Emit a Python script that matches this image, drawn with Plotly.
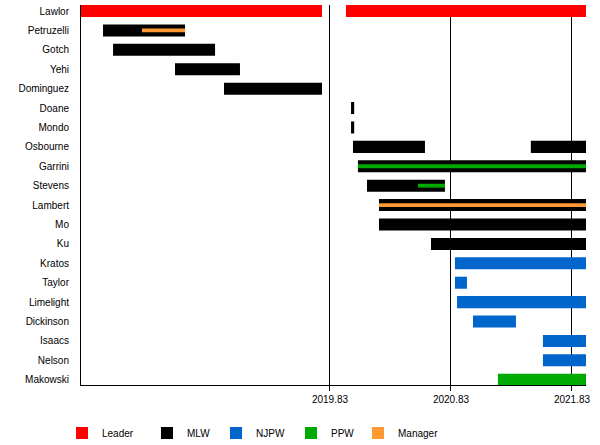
import plotly.graph_objects as go

# wrestlers, top to bottom
names = ["Lawlor", "Petruzelli", "Gotch", "Yehi", "Dominguez", "Doane", "Mondo",
         "Osbourne", "Garrini", "Stevens", "Lambert", "Mo", "Ku", "Kratos", "Taylor",
         "Limelight", "Dickinson", "Isaacs", "Nelson", "Makowski"]

# periods as decimal years
leader_names = ["Lawlor", "Lawlor"]
leader_start = [2017.772, 2019.962]
leader_end = [2019.764, 2021.946]

mlw_names = ["Petruzelli", "Gotch", "Yehi", "Dominguez", "Doane", "Mondo", "Osbourne",
             "Osbourne", "Garrini", "Stevens", "Lambert", "Mo", "Ku"]
mlw_start = [2017.954, 2018.037, 2018.549, 2018.954, 2020.004, 2020.004, 2020.020,
             2021.490, 2020.061, 2020.136, 2020.235, 2020.235, 2020.665]
mlw_end = [2018.632, 2018.880, 2019.086, 2019.764, 2020.030, 2020.030, 2020.615,
           2021.946, 2021.946, 2020.780, 2021.946, 2021.946, 2021.946]

njpw_names = ["Kratos", "Taylor", "Limelight", "Dickinson", "Isaacs", "Nelson"]
njpw_start = [2020.863, 2020.863, 2020.880, 2021.012, 2021.590, 2021.590]
njpw_end = [2021.946, 2020.962, 2021.946, 2021.367, 2021.946, 2021.946]

ppw_names = ["Makowski"]
ppw_start = [2021.218]
ppw_end = [2021.946]

# thin PPW stripes inside MLW bars
ppw_thin_names = ["Garrini", "Stevens"]
ppw_thin_start = [2020.061, 2020.557]
ppw_thin_end = [2021.946, 2020.780]

manager_names = ["Petruzelli", "Lambert"]
manager_start = [2018.276, 2020.235]
manager_end = [2018.632, 2021.946]

tick_vals = [2019.83, 2020.83, 2021.83]
tick_text = ["2019.83", "2020.83", "2021.83"]


def span_bar(label, color, ys, starts, ends, width, legend, show=True):
    return go.Bar(
        name=label,
        y=ys,
        base=starts,
        x=[e - s for s, e in zip(starts, ends)],
        orientation="h",
        width=width,
        marker=dict(color=color, line=dict(width=0)),
        showlegend=show,
        legend=legend,
        legendgroup=label,
    )


fig = go.Figure()
fig.add_trace(span_bar("Leader", "#FF0000", leader_names, leader_start, leader_end, 0.62, "legend"))
fig.add_trace(span_bar("MLW", "#000000", mlw_names, mlw_start, mlw_end, 0.62, "legend2"))
fig.add_trace(span_bar("NJPW", "#0066CC", njpw_names, njpw_start, njpw_end, 0.62, "legend3"))
fig.add_trace(span_bar("PPW", "#00AA00", ppw_names, ppw_start, ppw_end, 0.62, "legend4"))
fig.add_trace(span_bar("PPW", "#00AA00", ppw_thin_names, ppw_thin_start, ppw_thin_end,
                       0.2, "legend4", show=False))
fig.add_trace(span_bar("Manager", "#FF9933", manager_names, manager_start, manager_end, 0.2, "legend5"))


# one legend box per entry so the swatches sit where the original has them
def legend_box(px):
    return dict(orientation="h", xref="container", yref="container",
                x=px / 600, y=12 / 445, xanchor="left", yanchor="middle",
                font=dict(size=10), itemwidth=30, bgcolor="rgba(0,0,0,0)")


fig.update_layout(
    width=600, height=445,
    margin=dict(l=81, r=14, t=5, b=60),
    barmode="overlay",
    plot_bgcolor="white",
    paper_bgcolor="white",
    font=dict(family="Liberation Sans, Arial, sans-serif", size=10, color="black"),
    showlegend=True,
    legend=legend_box(62),
    legend2=legend_box(147),
    legend3=legend_box(216),
    legend4=legend_box(291),
    legend5=legend_box(358),
)
fig.update_xaxes(
    range=[2017.772, 2021.946],
    tickvals=tick_vals, ticktext=tick_text,
    showgrid=True, gridcolor="black", gridwidth=1,
    showline=True, linecolor="black", linewidth=1,
    ticks="outside", ticklen=5, tickcolor="black",
    zeroline=False,
)
fig.update_yaxes(
    categoryorder="array", categoryarray=names,
    range=[19.27, -0.31],
    showgrid=False, showline=True, linecolor="black", linewidth=1,
    ticks="", ticklabelstandoff=9, zeroline=False,
)

# drop the page's default 8px body margin so the figure sits at the window corner
fig.write_html("out.html", config={"displayModeBar": False},
               post_script="document.body.style.margin='0';")
